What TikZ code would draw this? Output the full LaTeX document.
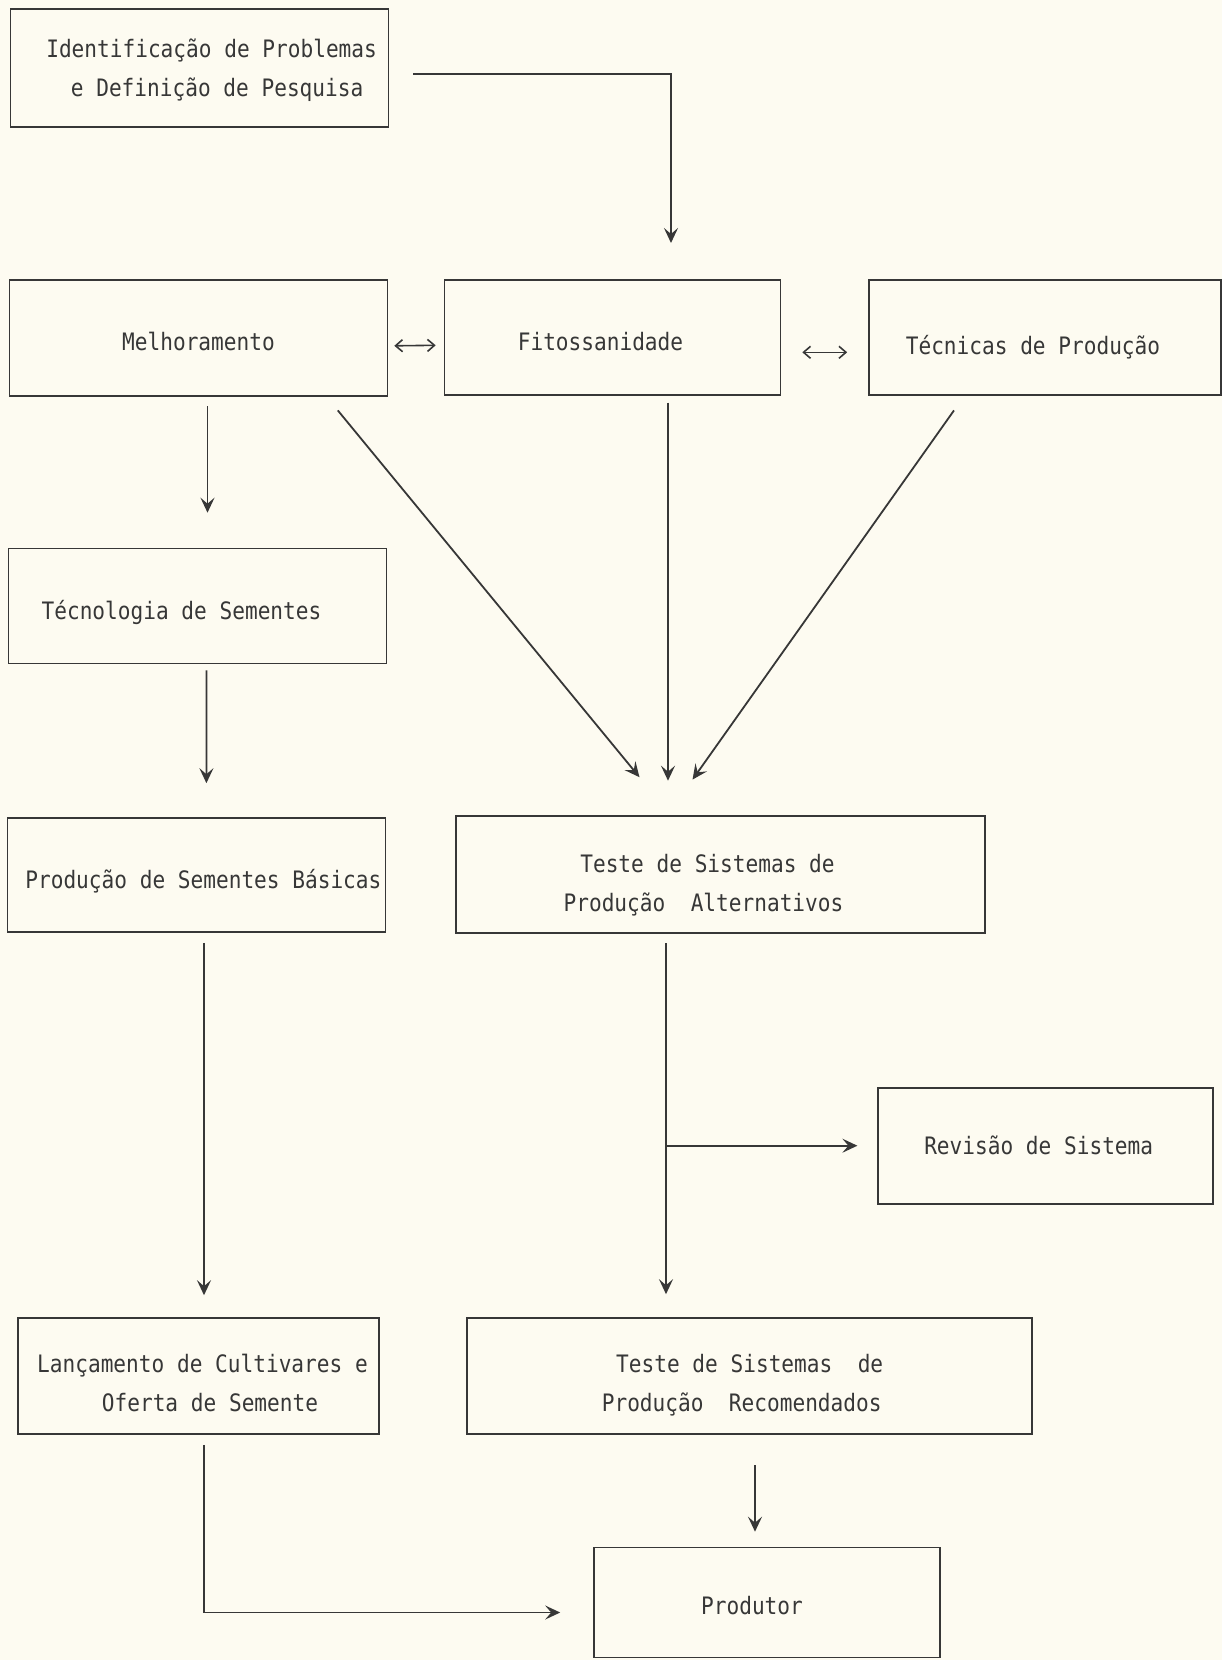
\documentclass[tikz,border=0pt]{standalone}
\usepackage{fontspec}
\usetikzlibrary{arrows.meta}
\newfontfamily\typewr[FakeStretch=0.88]{DejaVu Sans Mono}
\definecolor{paper}{RGB}{253,251,241}
\definecolor{ink}{RGB}{55,55,55}
\newcommand\dn[2][6pt]{\raisebox{-#1}[\height][\depth]{#2}}

\tikzstyle{blok}=[draw=ink,line width=1.6pt,text=ink,align=center,inner sep=0pt,font=\typewr\fontsize{24}{39}\selectfont]
\tikzstyle{flow}=[draw=ink,line width=1.8pt,-{Stealth[length=15pt,width=14pt,inset=6pt]}]
\tikzstyle{both}=[draw=ink,line width=1.6pt,{Straight Barb[length=7pt,width=12pt]}-{Straight Barb[length=7pt,width=12pt]}]

\begin{document}
\begin{tikzpicture}[x=1pt,y=-1pt]
        \useasboundingbox (0,0) rectangle (1222,1660);
        \fill[paper] (0,0) rectangle (1222,1660);
        \draw (199.6,67.8)  node[blok,minimum width=378pt,minimum height=118pt](ident){\dn[2pt]{\hspace*{24pt}Identificação de Problemas}\\\dn[2pt]{\hspace*{35pt}e Definição de Pesquisa}};
        \draw (198.5,337.8) node[blok,minimum width=378pt,minimum height=116pt](melh){\dn[4pt]{Melhoramento}};
        \draw (612.5,337.3) node[blok,minimum width=336pt,minimum height=115pt](fito){\dn[4pt]{Fitossanidade\hspace*{24pt}}};
        \draw (1045,337.3)  node[blok,minimum width=352pt,minimum height=115pt](tecn){\dn[10pt]{Técnicas de Produção\hspace*{24pt}}};
        \draw (197.5,606)   node[blok,minimum width=378pt,minimum height=115pt](tecsem){\dn{Técnologia de Sementes\hspace*{32pt}}};
        \draw (196.4,875)   node[blok,minimum width=378pt,minimum height=114pt](prodbas){\dn{\hspace*{14pt}Produção de Sementes Básicas}};
        \draw (720.5,874.5) node[blok,minimum width=529pt,minimum height=117pt](altern){\dn[10.5pt]{Teste de Sistemas de\hspace*{26pt}}\\\dn[10.5pt]{Produção~ Alternativos\hspace*{34pt}}};
        \draw (1045.7,1145.7) node[blok,minimum width=335pt,minimum height=116pt](revis){Revisão de Sistema\hspace*{14pt}};
        \draw (198.5,1376)  node[blok,minimum width=361pt,minimum height=116pt](lanc){\dn[6.5pt]{\hspace*{8pt}Lançamento de Cultivares e}\\\dn[6.5pt]{\hspace*{23pt}Oferta de Semente}};
        \draw (749.7,1376)  node[blok,minimum width=565pt,minimum height=116pt](recom){\dn[9.5pt]{Teste de Sistemas~ de}\\\dn[9.5pt]{Produção~ Recomendados\hspace*{16pt}}};
        \draw (767,1602.5)  node[blok,minimum width=346pt,minimum height=110pt](produt){\dn[3pt]{Produtor\hspace*{30pt}}};
        %
        \draw[flow] ([xshift=24pt,yshift=-6pt]ident.east) -| ([xshift=58.5pt,yshift=36pt]fito.north);
        \path
            ([xshift=6pt,yshift=-8pt]melh.east)        edge[both] ([xshift=-8pt,yshift=-8pt]fito.west)
            ([xshift=21pt,yshift=-15pt]fito.east)      edge[both] ([xshift=-21pt,yshift=-15pt]tecn.west)
            ([xshift=9pt,yshift=-9.5pt]melh.south)     edge[flow] ([xshift=10pt,yshift=35pt]tecsem.north)
            ([xshift=9pt,yshift=-6pt]tecsem.south)     edge[flow] ([xshift=10pt,yshift=34pt]prodbas.north)
            ([xshift=7.6pt,yshift=-10pt]prodbas.south) edge[flow] ([xshift=5.5pt,yshift=22pt]lanc.north)
            ([xshift=139.3pt,yshift=-13.8pt]melh.south) edge[flow] ([xshift=-81pt,yshift=38pt]altern.north)
            ([xshift=55.5pt,yshift=-7pt]fito.south)    edge[flow] ([xshift=-52.5pt,yshift=34.5pt]altern.north)
            ([xshift=-91pt,yshift=-14.8pt]tecn.south)  edge[flow] ([xshift=-28pt,yshift=35.6pt]altern.north)
            ([xshift=5.3pt,yshift=-30.5pt]recom.south) edge[flow] ([xshift=-12pt,yshift=15pt]produt.north)
        ;
        \coordinate (altout) at ([xshift=-54.5pt,yshift=-9.5pt]altern.south);
        \draw[flow] (altout) -- ([xshift=-83.7pt,yshift=23pt]recom.north);
        \draw[flow] (altout |- revis.west) -- ([xshift=-20pt]revis.west);
        \draw[flow] ([xshift=5.5pt,yshift=-10pt]lanc.south) |- ([xshift=-33pt,yshift=-10pt]produt.west);
        %
      \end{tikzpicture}
\end{document}
